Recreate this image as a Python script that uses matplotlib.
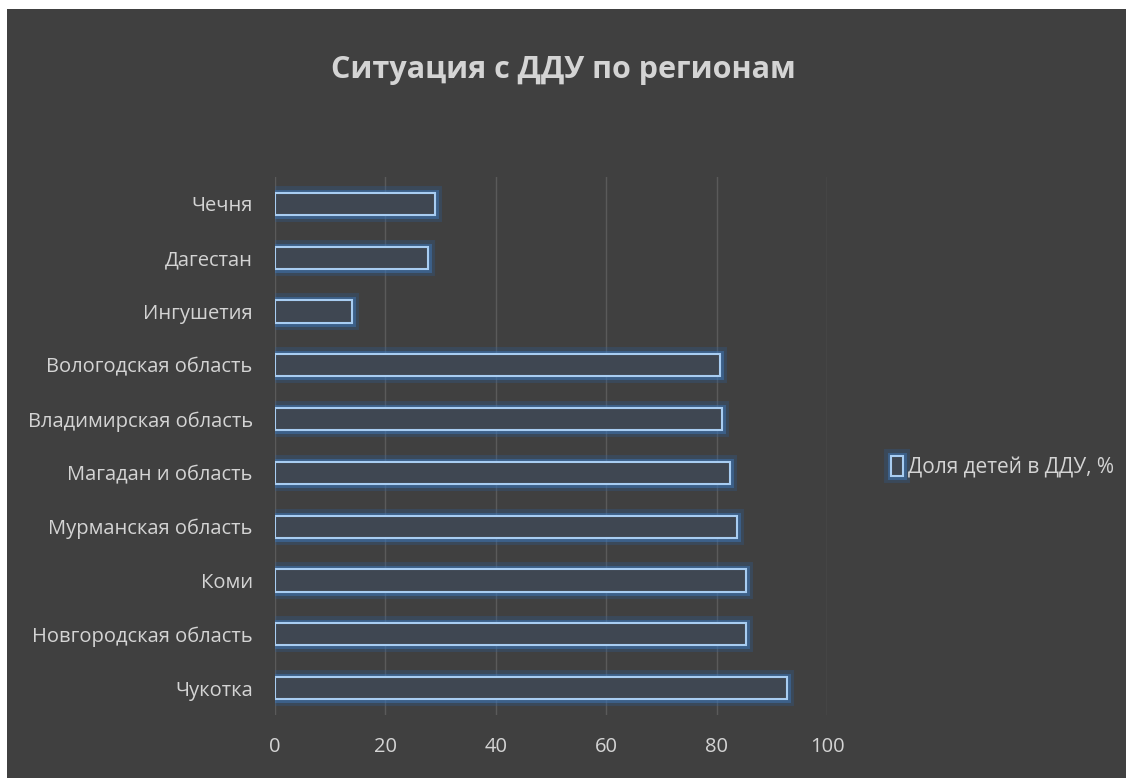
import matplotlib.pyplot as plt
import matplotlib.patheffects as pe
from matplotlib.patches import Rectangle
import numpy as np

plt.rcParams['font.family'] = ['Open Sans', 'DejaVu Sans']

# Регионы сверху вниз и доля детей в ДДУ, %
regions = ['Чечня', 'Дагестан', 'Ингушетия', 'Вологодская область',
           'Владимирская область', 'Магадан и область', 'Мурманская область',
           'Коми', 'Новгородская область', 'Чукотка']
share = [29.0, 27.8, 14.0, 80.6, 81.0, 82.5, 83.7, 85.4, 85.3, 92.8]
xticks = [0, 20, 40, 60, 80, 100]

bg = '#404040'
txt = '#d4d4d4'

fig = plt.figure(figsize=(11.26, 7.78), dpi=100, facecolor='white')
# тёмная подложка с узкой белой полосой сверху и слева
fig.patches.append(Rectangle((7 / 1126, 0), 1, 1 - 9 / 778, transform=fig.transFigure,
                             facecolor=bg, edgecolor='none', zorder=-5))

ax = fig.add_axes([0.2442, 0.081, 0.4903, 0.6915])
ax.set_facecolor('none')

y = np.arange(len(regions))
glow = [pe.Stroke(linewidth=10, foreground='#2d5f99', alpha=0.3),
        pe.Stroke(linewidth=5, foreground='#3f78b8', alpha=0.5),
        pe.Normal()]
ax.barh(y, share, height=0.41, facecolor='#3f4752', edgecolor='#a8cdf2',
        linewidth=1.5, label='Доля детей в ДДУ, %', path_effects=glow, zorder=3)

ax.set_ylim(-0.5, len(regions) - 0.5)
ax.invert_yaxis()
ax.set_yticks(y)
ax.set_yticklabels(regions, fontsize=14.5, color=txt)
ax.set_xlim(0, 100)
ax.set_xticks(xticks)
ax.set_xticklabels([str(v) for v in xticks], fontsize=14.5, color=txt)
ax.tick_params(axis='both', length=0)
ax.tick_params(axis='x', pad=16)
ax.tick_params(axis='y', pad=16)

ax.grid(axis='x', color='#5a5a5a', linewidth=1.0)
ax.set_axisbelow(True)
for s in ax.spines.values():
    s.set_visible(False)

fig.text(0.5, 1 - 70 / 778, 'Ситуация с ДДУ по регионам', ha='center', va='center',
         fontsize=22, fontweight='bold', color=txt)

leg = fig.legend(loc='center left', bbox_to_anchor=(883 / 1126, 1 - 467 / 778),
                 frameon=False, fontsize=15, handlelength=0.55, handleheight=1.1,
                 handletextpad=0.25, borderaxespad=0)
for t in leg.get_texts():
    t.set_color(txt)

fig.savefig('out.png', dpi=100, facecolor=fig.get_facecolor())
